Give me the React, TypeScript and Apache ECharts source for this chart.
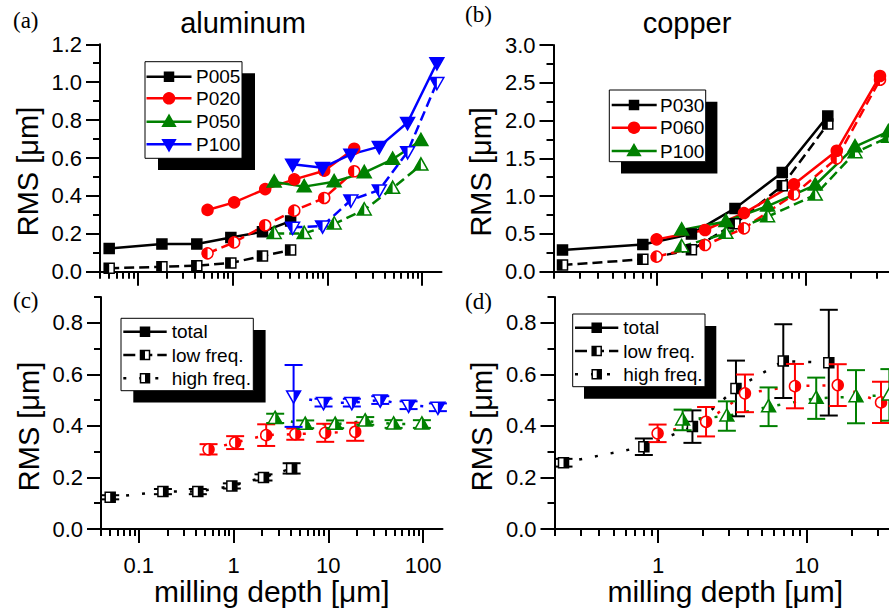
import React, { useEffect, useRef } from 'react';
import * as echarts from 'echarts';

const FONT = "'Liberation Sans', Arial, Helvetica, sans-serif";
const SERIF = "'Liberation Serif', 'Times New Roman', serif";
const BLACK = '#000000';
const RED = '#ff0000';
const GREEN = '#008000';
const BLUE = '#0000ff';

// ---------------- Aluminum ----------------
const alDepthP005 = [0.05, 0.18, 0.42, 0.96, 2.07, 4.1];
const alDepthP020 = [0.545, 1.04, 2.21, 4.48, 9.27, 19.2];
const alDepthP050 = [2.75, 5.7, 11.8, 24.5, 48.8, 97];
const alDepthP100 = [4.3, 8.9, 17.7, 35.3, 70.2, 143];

const alTotalP005 = [0.123, 0.146, 0.146, 0.18, 0.211, 0.267];
const alTotalP020 = [0.326, 0.366, 0.436, 0.487, 0.533, 0.649];
const alTotalP050 = [0.473, 0.449, 0.475, 0.523, 0.593, 0.692];
const alTotalP100 = [0.567, 0.549, 0.619, 0.66, 0.787, 1.103];

const alLowP005 = [0.018, 0.026, 0.032, 0.046, 0.083, 0.114];
const alLowP020 = [0.097, 0.155, 0.245, 0.322, 0.389, 0.53];
const alLowP050 = [0.202, 0.202, 0.252, 0.326, 0.44, 0.563];
const alLowP100 = [0.234, 0.241, 0.378, 0.431, 0.633, 0.998];

const alHighP005 = [0.123, 0.145, 0.145, 0.167, 0.2, 0.235];
const alHighErrP005 = [0.008, 0.01, 0.01, 0.01, 0.012, 0.02];
const alHighP020 = [0.309, 0.335, 0.364, 0.368, 0.373, 0.377];
const alHighErrP020 = [0.02, 0.025, 0.042, 0.022, 0.035, 0.035];
const alHighP050 = [0.429, 0.406, 0.406, 0.419, 0.407, 0.407];
const alHighErrP050 = [0.018, 0.015, 0.015, 0.015, 0.015, 0.015];
const alHighP100 = [0.516, 0.49, 0.49, 0.5, 0.48, 0.472];
const alHighErrP100 = [0.12, 0.015, 0.015, 0.015, 0.015, 0.015];

// ---------------- Copper ----------------
const cuDepthP030 = [0.23, 0.8, 1.7, 3.34, 6.96, 14.1];
const cuDepthP060 = [0.99, 2.1, 3.84, 8.34, 16.2, 31.7];
const cuDepthP100 = [1.46, 2.9, 5.54, 11.6, 21.5, 36.1];

const cuTotalP030 = [0.287, 0.36, 0.5, 0.838, 1.314, 2.06];
const cuTotalP060 = [0.428, 0.552, 0.776, 1.156, 1.601, 2.59];
const cuTotalP100 = [0.552, 0.665, 0.869, 1.147, 1.654, 1.853];

const cuLowP030 = [0.088, 0.164, 0.29, 0.635, 1.138, 1.954];
const cuLowP060 = [0.199, 0.353, 0.574, 1.023, 1.5, 2.54];
const cuLowP100 = [0.331, 0.508, 0.728, 1.015, 1.575, 1.78];

const cuHighP030 = [0.257, 0.319, 0.397, 0.545, 0.651, 0.645];
const cuHighErrP030 = [0.015, 0.032, 0.063, 0.108, 0.143, 0.205];
const cuHighP060 = [0.371, 0.416, 0.526, 0.554, 0.558, 0.491];
const cuHighErrP060 = [0.034, 0.057, 0.073, 0.086, 0.081, 0.08];
const cuHighP100 = [0.423, 0.438, 0.474, 0.507, 0.513, 0.52];
const cuHighErrP100 = [0.04, 0.057, 0.075, 0.08, 0.103, 0.1];

// ---------------- Ticks ----------------
const alDepthMajor = [0.1, 1, 10, 100];
const alDepthMinor = [0.04, 0.05, 0.06, 0.07, 0.08, 0.09, 0.2, 0.3, 0.4, 0.5, 0.6, 0.7, 0.8, 0.9, 2, 3, 4, 5, 6, 7, 8, 9, 20, 30, 40, 50, 60, 70, 80, 90];
const cuDepthMajor = [1, 10];
const cuDepthMinor = [0.2, 0.3, 0.4, 0.5, 0.6, 0.7, 0.8, 0.9, 2, 3, 4, 5, 6, 7, 8, 9, 20, 30, 40];
const rmsMajorA = [0, 0.2, 0.4, 0.6, 0.8, 1.0, 1.2];
const rmsMinorA = [0.1, 0.3, 0.5, 0.7, 0.9, 1.1];
const rmsMajorB = [0, 0.5, 1.0, 1.5, 2.0, 2.5, 3.0];
const rmsMinorB = [0.25, 0.75, 1.25, 1.75, 2.25, 2.75];
const rmsMajorCD = [0, 0.2, 0.4, 0.6, 0.8];
const rmsMinorCD = [0.1, 0.3, 0.5, 0.7, 0.9];

type Shape = 'square' | 'circle' | 'triangle' | 'invTriangle';
type Fill = 'full' | 'left' | 'right';

function markerEls(shape: Shape, fill: Fill, color: string, cx: number, cy: number, s: number): any[] {
  const h = s / 2;
  const base = fill === 'full' ? color : '#ffffff';
  const st = { stroke: color, lineWidth: 1.5 };
  const els: any[] = [];
  if (shape === 'square') {
    els.push({ type: 'rect', shape: { x: cx - h, y: cy - h, width: s, height: s }, style: { fill: base, ...st } });
    if (fill === 'left') els.push({ type: 'rect', shape: { x: cx - h, y: cy - h, width: h, height: s }, style: { fill: color } });
    if (fill === 'right') els.push({ type: 'rect', shape: { x: cx, y: cy - h, width: h, height: s }, style: { fill: color } });
  } else if (shape === 'circle') {
    els.push({ type: 'circle', shape: { cx, cy, r: h }, style: { fill: base, ...st } });
    if (fill !== 'full') {
      els.push({
        type: 'sector',
        shape: {
          cx, cy, r0: 0, r: h,
          startAngle: fill === 'left' ? Math.PI / 2 : -Math.PI / 2,
          endAngle: fill === 'left' ? Math.PI * 1.5 : Math.PI / 2,
          clockwise: true,
        },
        style: { fill: color },
      });
    }
  } else {
    const dir = shape === 'triangle' ? 1 : -1;
    const apexY = cy - dir * 0.6 * s;
    const baseY = cy + dir * 0.42 * s;
    const hw = 0.58 * s;
    els.push({ type: 'polygon', shape: { points: [[cx, apexY], [cx - hw, baseY], [cx + hw, baseY]] }, style: { fill: base, ...st } });
    if (fill === 'left') els.push({ type: 'polygon', shape: { points: [[cx, apexY], [cx - hw, baseY], [cx, baseY]] }, style: { fill: color } });
    if (fill === 'right') els.push({ type: 'polygon', shape: { points: [[cx, apexY], [cx + hw, baseY], [cx, baseY]] }, style: { fill: color } });
  }
  return els;
}

const SIZE: Record<Shape, number> = { square: 10, circle: 11, triangle: 12, invTriangle: 12 };
const DASHED = [10, 5];
const DOTTED = [3, 13];

function lineSeries(g: number, xs: number[], ys: number[], color: string, dash: any) {
  return {
    type: 'line',
    xAxisIndex: g * 2,
    yAxisIndex: g * 2,
    data: xs.map((x, i) => [x, ys[i]]),
    symbol: 'none',
    showSymbol: false,
    silent: true,
    z: 2,
    lineStyle: { color, width: 2.5, type: dash },
  };
}

function markerSeries(g: number, xs: number[], ys: number[], shape: Shape, fill: Fill, color: string, errs?: number[]) {
  return {
    type: 'custom',
    xAxisIndex: g * 2,
    yAxisIndex: g * 2,
    silent: true,
    z: 4,
    clip: false,
    encode: { x: 0, y: 1 },
    data: xs.map((x, i) => (errs ? [x, ys[i], errs[i]] : [x, ys[i]])),
    renderItem: (_params: any, api: any) => {
      const x = api.value(0);
      const y = api.value(1);
      const p = api.coord([x, y]);
      const children: any[] = [];
      if (errs) {
        const e = api.value(2);
        const t = api.coord([x, y + e]);
        const b = api.coord([x, y - e]);
        const cw = 9;
        const ls = { stroke: color, lineWidth: 2 };
        children.push({ type: 'line', shape: { x1: t[0], y1: t[1], x2: b[0], y2: b[1] }, style: ls });
        children.push({ type: 'line', shape: { x1: t[0] - cw, y1: t[1], x2: t[0] + cw, y2: t[1] }, style: ls });
        children.push({ type: 'line', shape: { x1: b[0] - cw, y1: b[1], x2: b[0] + cw, y2: b[1] }, style: ls });
      }
      children.push(...markerEls(shape, fill, color, p[0], p[1], SIZE[shape]));
      return { type: 'group', children };
    },
  };
}

const axisLineStyle = { color: BLACK, width: 2 };

function xAxes(g: number, min: number, max: number, major: number[], minor: number[], showLabels: boolean) {
  return [
    {
      type: 'log', logBase: 10, gridIndex: g, position: 'bottom', min, max,
      axisLine: { show: true, onZero: false, lineStyle: axisLineStyle },
      axisTick: { show: true, customValues: major, length: 14, lineStyle: axisLineStyle },
      axisLabel: {
        show: showLabels, customValues: major, color: BLACK, fontSize: 22, fontFamily: FONT, margin: 25,
        formatter: (v: number) => String(v),
      },
      splitLine: { show: false },
      minorTick: { show: false },
      name: showLabels ? 'milling depth [μm]' : '',
      nameLocation: 'middle',
      nameGap: 46,
      nameTextStyle: { fontSize: 30, color: BLACK, fontFamily: FONT },
    },
    {
      type: 'log', logBase: 10, gridIndex: g, position: 'bottom', min, max,
      axisLine: { show: false, onZero: false },
      axisTick: { show: true, customValues: minor, length: 7, lineStyle: axisLineStyle },
      axisLabel: { show: false },
      splitLine: { show: false },
    },
  ];
}

function yAxes(g: number, max: number, major: number[], minor: number[]) {
  return [
    {
      type: 'value', gridIndex: g, position: 'left', min: 0, max,
      axisLine: { show: true, onZero: false, lineStyle: axisLineStyle },
      axisTick: { show: true, customValues: major, length: 14, lineStyle: axisLineStyle },
      axisLabel: {
        show: true, customValues: major, color: BLACK, fontSize: 22, fontFamily: FONT, margin: 18,
        formatter: (v: number) => v.toFixed(1),
      },
      splitLine: { show: false },
      name: 'RMS [μm]',
      nameLocation: 'middle',
      nameGap: 58,
      nameTextStyle: { fontSize: 29, color: BLACK, fontFamily: FONT, padding: [0, 27, 0, 0] },
    },
    {
      type: 'value', gridIndex: g, position: 'left', min: 0, max,
      axisLine: { show: false, onZero: false },
      axisTick: { show: true, customValues: minor, length: 7, lineStyle: axisLineStyle },
      axisLabel: { show: false },
      splitLine: { show: false },
    },
  ];
}

type LegendEntry = { label: string; color: string; dash: number[] | null; shape: Shape; fill: Fill };

function legendEls(
  box: [number, number, number, number],
  shadow: [number, number],
  rows: number[],
  lineX: [number, number],
  markerX: number,
  textX: number,
  entries: LegendEntry[],
): any[] {
  const [bx, by, bw, bh] = box;
  const els: any[] = [
    { type: 'rect', shape: { x: bx + shadow[0], y: by + shadow[1], width: bw, height: bh }, style: { fill: BLACK } },
    { type: 'rect', shape: { x: bx, y: by, width: bw, height: bh }, style: { fill: '#ffffff', stroke: BLACK, lineWidth: 1 } },
  ];
  entries.forEach((e, i) => {
    const y = rows[i];
    els.push({
      type: 'line',
      shape: { x1: lineX[0], y1: y, x2: lineX[1], y2: y },
      style: { stroke: e.color, lineWidth: 2.5, lineDash: e.dash || undefined },
    });
    els.push(...markerEls(e.shape, e.fill, e.color, markerX, y, e.shape === 'square' ? 9 : 11));
    els.push({
      type: 'text', x: textX, y,
      style: { text: e.label, font: `19px ${FONT}`, fill: BLACK, align: 'left', verticalAlign: 'middle', textAlign: 'left', textVerticalAlign: 'middle' },
    });
  });
  return els;
}

function textEl(text: string, x: number, y: number, font: string, align = 'left') {
  return {
    type: 'text', x, y,
    style: { text, font, fill: BLACK, align, verticalAlign: 'middle', textAlign: align, textVerticalAlign: 'middle' },
  };
}

function buildOption() {
  const series: any[] = [];
  const alSets: [number[], number[], number[], string, Shape][] = [
    [alDepthP005, alTotalP005, alLowP005, BLACK, 'square'],
    [alDepthP020, alTotalP020, alLowP020, RED, 'circle'],
    [alDepthP050, alTotalP050, alLowP050, GREEN, 'triangle'],
    [alDepthP100, alTotalP100, alLowP100, BLUE, 'invTriangle'],
  ];
  alSets.forEach(([xs, tot, low, c, sh]) => {
    series.push(lineSeries(0, xs, low, c, DASHED));
    series.push(markerSeries(0, xs, low, sh, 'left', c));
    series.push(lineSeries(0, xs, tot, c, 'solid'));
    series.push(markerSeries(0, xs, tot, sh, 'full', c));
  });
  const cuSets: [number[], number[], number[], string, Shape][] = [
    [cuDepthP030, cuTotalP030, cuLowP030, BLACK, 'square'],
    [cuDepthP060, cuTotalP060, cuLowP060, RED, 'circle'],
    [cuDepthP100, cuTotalP100, cuLowP100, GREEN, 'triangle'],
  ];
  cuSets.forEach(([xs, tot, low, c, sh]) => {
    series.push(lineSeries(1, xs, low, c, DASHED));
    series.push(markerSeries(1, xs, low, sh, 'left', c));
    series.push(lineSeries(1, xs, tot, c, 'solid'));
    series.push(markerSeries(1, xs, tot, sh, 'full', c));
  });
  const alHigh: [number[], number[], number[], string, Shape][] = [
    [alDepthP005, alHighP005, alHighErrP005, BLACK, 'square'],
    [alDepthP020, alHighP020, alHighErrP020, RED, 'circle'],
    [alDepthP050, alHighP050, alHighErrP050, GREEN, 'triangle'],
    [alDepthP100, alHighP100, alHighErrP100, BLUE, 'invTriangle'],
  ];
  alHigh.forEach(([xs, ys, er, c, sh]) => {
    series.push(lineSeries(2, xs, ys, c, DOTTED));
    series.push(markerSeries(2, xs, ys, sh, 'right', c, er));
  });
  const cuHigh: [number[], number[], number[], string, Shape][] = [
    [cuDepthP030, cuHighP030, cuHighErrP030, BLACK, 'square'],
    [cuDepthP060, cuHighP060, cuHighErrP060, RED, 'circle'],
    [cuDepthP100, cuHighP100, cuHighErrP100, GREEN, 'triangle'],
  ];
  cuHigh.forEach(([xs, ys, er, c, sh]) => {
    series.push(lineSeries(3, xs, ys, c, DOTTED));
    series.push(markerSeries(3, xs, ys, sh, 'right', c, er));
  });

  const freqEntries: LegendEntry[] = [
    { label: 'total', color: BLACK, dash: null, shape: 'square', fill: 'full' },
    { label: 'low freq.', color: BLACK, dash: [12, 5], shape: 'square', fill: 'left' },
    { label: 'high freq.', color: BLACK, dash: DOTTED, shape: 'square', fill: 'right' },
  ];

  const graphics: any[] = [
    textEl('aluminum', 243, 23, `29px ${FONT}`, 'center'),
    textEl('copper', 687, 23, `29px ${FONT}`, 'center'),
    textEl('(a)', 13, 20, `23px ${SERIF}`),
    textEl('(b)', 465, 14, `23px ${SERIF}`),
    textEl('(c)', 13, 300, `23px ${SERIF}`),
    textEl('(d)', 465, 301, `23px ${SERIF}`),
    ...legendEls([145, 61.7, 97, 96.6], [13, 11.6], [76.7, 98.3, 121.7, 144.3], [146.5, 191.5], 169, 196, [
      { label: 'P005', color: BLACK, dash: null, shape: 'square', fill: 'full' },
      { label: 'P020', color: RED, dash: null, shape: 'circle', fill: 'full' },
      { label: 'P050', color: GREEN, dash: null, shape: 'triangle', fill: 'full' },
      { label: 'P100', color: BLUE, dash: null, shape: 'invTriangle', fill: 'full' },
    ]),
    ...legendEls([609.3, 90, 96.4, 71.7], [11.7, 11.7], [105, 127.7, 151], [611.7, 656.7], 634, 660, [
      { label: 'P030', color: BLACK, dash: null, shape: 'square', fill: 'full' },
      { label: 'P060', color: RED, dash: null, shape: 'circle', fill: 'full' },
      { label: 'P100', color: GREEN, dash: null, shape: 'triangle', fill: 'full' },
    ]),
    ...legendEls([121, 318.3, 132.3, 72.4], [12.3, 11.7], [331.7, 355, 378.3], [123.3, 166.7], 145, 171.7, freqEntries),
    ...legendEls([572.7, 314, 132.3, 72.7], [11.3, 12], [327.7, 351, 374.3], [575, 618.3], 596.7, 623.3, freqEntries),
  ];

  return {
    animation: false,
    backgroundColor: '#ffffff',
    textStyle: { fontFamily: FONT },
    grid: [
      { left: 100, top: 44.3, width: 341.5, height: 227.4, outerBoundsMode: 'none', containLabel: false },
      { left: 553.5, top: 45, width: 341.5, height: 226.7, outerBoundsMode: 'none', containLabel: false },
      { left: 101, top: 296.9, width: 341.5, height: 232.1, outerBoundsMode: 'none', containLabel: false },
      { left: 554.5, top: 296.9, width: 341.5, height: 232.1, outerBoundsMode: 'none', containLabel: false },
    ],
    xAxis: [
      ...xAxes(0, 0.04, 160, alDepthMajor, alDepthMinor, false),
      ...xAxes(1, 0.2, 40, cuDepthMajor, cuDepthMinor, false),
      ...xAxes(2, 0.04, 160, alDepthMajor, alDepthMinor, true),
      ...xAxes(3, 0.2, 40, cuDepthMajor, cuDepthMinor, true),
    ],
    yAxis: [
      ...yAxes(0, 1.2, rmsMajorA, rmsMinorA),
      ...yAxes(1, 3.0, rmsMajorB, rmsMinorB),
      ...yAxes(2, 0.9, rmsMajorCD, rmsMinorCD),
      ...yAxes(3, 0.9, rmsMajorCD, rmsMinorCD),
    ],
    series,
    graphic: { elements: graphics },
  };
}

export default function App() {
  const ref = useRef<HTMLDivElement>(null);
  useEffect(() => {
    if (!ref.current) return;
    const chart = echarts.init(ref.current, null, { renderer: 'svg' });
    chart.setOption(buildOption() as any);
    return () => chart.dispose();
  }, []);
  return (
    <div
      ref={ref}
      style={{ position: 'absolute', left: 0, top: 0, width: 889, height: 612, background: '#ffffff', overflow: 'hidden' }}
    />
  );
}
